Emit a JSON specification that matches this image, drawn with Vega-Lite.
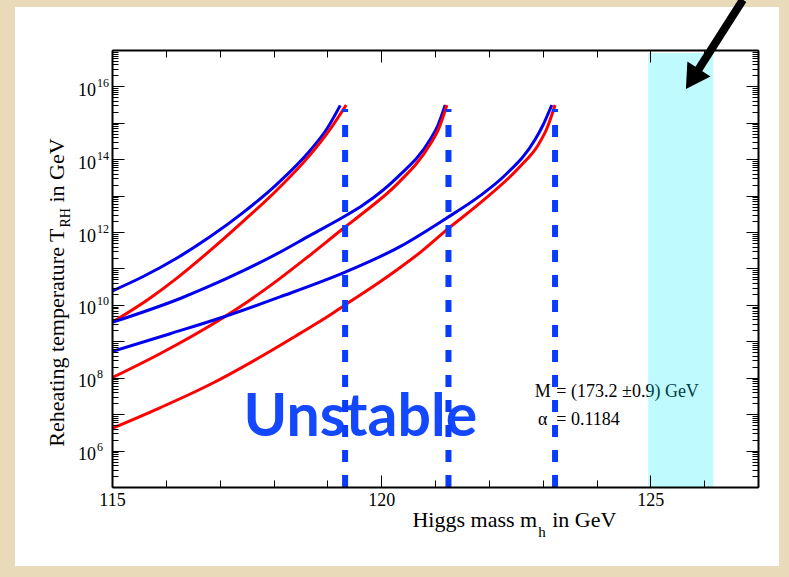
{
  "$schema": "https://vega.github.io/schema/vega-lite/v6.json",
  "width": 646,
  "height": 437,
  "autosize": "none",
  "padding": {"left": 112, "top": 50, "right": 31, "bottom": 90},
  "background": "#e9dbb9",
  "config": {"view": {"stroke": null}},
  "datasets": {
    "curves": [
      {"mh": 115.00, "T": 2.40e10, "curve": "A", "color": "blue"},
      {"mh": 115.58, "T": 6.03e10, "curve": "A", "color": "blue"},
      {"mh": 116.20, "T": 1.91e11, "curve": "A", "color": "blue"},
      {"mh": 116.82, "T": 7.41e11, "curve": "A", "color": "blue"},
      {"mh": 117.44, "T": 3.47e12, "curve": "A", "color": "blue"},
      {"mh": 118.06, "T": 2.04e13, "curve": "A", "color": "blue"},
      {"mh": 118.68, "T": 1.74e14, "curve": "A", "color": "blue"},
      {"mh": 118.99, "T": 6.76e14, "curve": "A", "color": "blue"},
      {"mh": 119.24, "T": 3.02e15, "curve": "A", "color": "blue"},

      {"mh": 115.00, "T": 3.31e9, "curve": "A", "color": "red"},
      {"mh": 115.71, "T": 1.55e10, "curve": "A", "color": "red"},
      {"mh": 116.20, "T": 5.37e10, "curve": "A", "color": "red"},
      {"mh": 116.82, "T": 3.09e11, "curve": "A", "color": "red"},
      {"mh": 117.44, "T": 2.00e12, "curve": "A", "color": "red"},
      {"mh": 118.06, "T": 1.41e13, "curve": "A", "color": "red"},
      {"mh": 118.68, "T": 1.32e14, "curve": "A", "color": "red"},
      {"mh": 119.05, "T": 6.61e14, "curve": "A", "color": "red"},
      {"mh": 119.35, "T": 3.09e15, "curve": "A", "color": "red"},

      {"mh": 115.00, "T": 3.31e9, "curve": "B", "color": "blue"},
      {"mh": 116.29, "T": 1.55e10, "curve": "B", "color": "blue"},
      {"mh": 116.82, "T": 3.31e10, "curve": "B", "color": "blue"},
      {"mh": 117.44, "T": 8.71e10, "curve": "B", "color": "blue"},
      {"mh": 118.06, "T": 2.51e11, "curve": "B", "color": "blue"},
      {"mh": 118.68, "T": 8.13e11, "curve": "B", "color": "blue"},
      {"mh": 119.33, "T": 2.75e12, "curve": "B", "color": "blue"},
      {"mh": 119.67, "T": 5.62e12, "curve": "B", "color": "blue"},
      {"mh": 120.29, "T": 3.09e13, "curve": "B", "color": "blue"},
      {"mh": 120.91, "T": 3.47e14, "curve": "B", "color": "blue"},
      {"mh": 121.05, "T": 8.32e14, "curve": "B", "color": "blue"},
      {"mh": 121.19, "T": 3.09e15, "curve": "B", "color": "blue"},

      {"mh": 115.00, "T": 1.00e8, "curve": "B", "color": "red"},
      {"mh": 115.89, "T": 4.57e8, "curve": "B", "color": "red"},
      {"mh": 117.01, "T": 3.98e9, "curve": "B", "color": "red"},
      {"mh": 117.56, "T": 1.35e10, "curve": "B", "color": "red"},
      {"mh": 118.06, "T": 4.57e10, "curve": "B", "color": "red"},
      {"mh": 118.68, "T": 2.34e11, "curve": "B", "color": "red"},
      {"mh": 119.33, "T": 1.38e12, "curve": "B", "color": "red"},
      {"mh": 119.67, "T": 3.39e12, "curve": "B", "color": "red"},
      {"mh": 120.29, "T": 2.04e13, "curve": "B", "color": "red"},
      {"mh": 120.91, "T": 2.57e14, "curve": "B", "color": "red"},
      {"mh": 121.07, "T": 6.92e14, "curve": "B", "color": "red"},
      {"mh": 121.22, "T": 3.09e15, "curve": "B", "color": "red"},

      {"mh": 115.00, "T": 5.25e8, "curve": "C", "color": "blue"},
      {"mh": 116.08, "T": 1.62e9, "curve": "C", "color": "blue"},
      {"mh": 117.01, "T": 4.37e9, "curve": "C", "color": "blue"},
      {"mh": 118.12, "T": 1.66e10, "curve": "C", "color": "blue"},
      {"mh": 119.33, "T": 7.94e10, "curve": "C", "color": "blue"},
      {"mh": 120.35, "T": 3.98e11, "curve": "C", "color": "blue"},
      {"mh": 121.19, "T": 2.29e12, "curve": "C", "color": "blue"},
      {"mh": 121.84, "T": 1.00e13, "curve": "C", "color": "blue"},
      {"mh": 122.30, "T": 3.63e13, "curve": "C", "color": "blue"},
      {"mh": 122.86, "T": 3.47e14, "curve": "C", "color": "blue"},
      {"mh": 123.00, "T": 8.32e14, "curve": "C", "color": "blue"},
      {"mh": 123.17, "T": 3.09e15, "curve": "C", "color": "blue"},

      {"mh": 115.00, "T": 4.07e6, "curve": "C", "color": "red"},
      {"mh": 115.87, "T": 1.45e7, "curve": "C", "color": "red"},
      {"mh": 116.80, "T": 6.31e7, "curve": "C", "color": "red"},
      {"mh": 117.73, "T": 3.55e8, "curve": "C", "color": "red"},
      {"mh": 118.47, "T": 1.58e9, "curve": "C", "color": "red"},
      {"mh": 119.05, "T": 5.25e9, "curve": "C", "color": "red"},
      {"mh": 119.33, "T": 1.00e10, "curve": "C", "color": "red"},
      {"mh": 119.61, "T": 1.86e10, "curve": "C", "color": "red"},
      {"mh": 120.29, "T": 9.12e10, "curve": "C", "color": "red"},
      {"mh": 120.75, "T": 2.95e11, "curve": "C", "color": "red"},
      {"mh": 121.25, "T": 1.26e12, "curve": "C", "color": "red"},
      {"mh": 121.84, "T": 6.31e12, "curve": "C", "color": "red"},
      {"mh": 122.58, "T": 6.31e13, "curve": "C", "color": "red"},
      {"mh": 122.92, "T": 2.51e14, "curve": "C", "color": "red"},
      {"mh": 123.08, "T": 7.08e14, "curve": "C", "color": "red"},
      {"mh": 123.23, "T": 3.09e15, "curve": "C", "color": "red"}
    ],
    "bounds": [{"mh": 119.33}, {"mh": 121.25}, {"mh": 123.23}],
    "decades": [
      {"T": 1e6, "e": "6"}, {"T": 1e8, "e": "8"}, {"T": 1e10, "e": "10"},
      {"T": 1e12, "e": "12"}, {"T": 1e14, "e": "14"}, {"T": 1e16, "e": "16"}
    ],
    "frame": [{"mh": 115, "T": 1e5}],
    "one": [{}]
  },
  "resolve": {"axis": {"x": "independent", "y": "independent"}},
  "layer": [
    {
      "data": {"name": "one"},
      "mark": {"type": "rect", "fill": "white", "clip": false},
      "encoding": {
        "x": {"datum": 113.198, "axis": null},
        "x2": {"datum": 127.391},
        "y": {"datum": 1.52e18, "axis": null},
        "y2": {"datum": 679}
      }
    },
    {
      "data": {"name": "curves"},
      "mark": {"type": "line", "strokeWidth": 3, "interpolate": "monotone", "clip": true},
      "encoding": {
        "x": {
          "field": "mh", "type": "quantitative",
          "scale": {"domain": [115, 127], "nice": false, "zero": false},
          "axis": {
            "orient": "bottom", "title": null, "grid": false, "zindex": 1,
            "values": [115, 116, 117, 118, 119, 120, 121, 122, 123, 124, 125, 126, 127],
            "labelExpr": "datum.value % 5 === 0 ? datum.label : ''",
            "labelFont": "Liberation Serif", "labelFontSize": 18, "labelColor": "black",
            "labelPadding": 16, "labelFlush": false, "labelOverlap": false,
            "tickColor": "black", "tickWidth": 1,
            "tickSize": {"condition": {"test": "datum.value % 5 === 0", "value": -12}, "value": -7},
            "domainColor": "black", "domainWidth": 2
          }
        },
        "y": {
          "field": "T", "type": "quantitative",
          "scale": {"type": "log", "domain": [1e5, 1e17], "nice": false},
          "axis": {
            "orient": "left", "title": null, "grid": false, "zindex": 1, "labels": false,
            "values": [1e5,2e5,3e5,4e5,5e5,6e5,7e5,8e5,9e5,1e6,2e6,3e6,4e6,5e6,6e6,7e6,8e6,9e6,1e7,2e7,3e7,4e7,5e7,6e7,7e7,8e7,9e7,1e8,2e8,3e8,4e8,5e8,6e8,7e8,8e8,9e8,1e9,2e9,3e9,4e9,5e9,6e9,7e9,8e9,9e9,1e10,2e10,3e10,4e10,5e10,6e10,7e10,8e10,9e10,1e11,2e11,3e11,4e11,5e11,6e11,7e11,8e11,9e11,1e12,2e12,3e12,4e12,5e12,6e12,7e12,8e12,9e12,1e13,2e13,3e13,4e13,5e13,6e13,7e13,8e13,9e13,1e14,2e14,3e14,4e14,5e14,6e14,7e14,8e14,9e14,1e15,2e15,3e15,4e15,5e15,6e15,7e15,8e15,9e15,1e16,2e16,3e16,4e16,5e16,6e16,7e16,8e16,9e16,1e17],
            "tickColor": "black", "tickWidth": 1,
            "tickSize": {"condition": {"test": "abs(log(datum.value)/LN10 - round(log(datum.value)/LN10)) < 0.000001", "value": -12}, "value": -6},
            "domainColor": "black", "domainWidth": 2
          }
        },
        "color": {
          "field": "color", "type": "nominal",
          "scale": {"domain": ["blue", "red"], "range": ["#0000ee", "#ff0000"]},
          "legend": null
        },
        "detail": {"field": "curve"}
      }
    },
    {
      "data": {"name": "one"},
      "mark": {"type": "text", "text": "Unstable", "font": "Lato", "fontWeight": "bold", "fontSize": 59, "color": "#1448ff", "align": "left", "baseline": "alphabetic", "dx": -3, "dy": -15},
      "encoding": {"x": {"datum": 117.5, "axis": null}, "y": {"datum": 1e6, "axis": null}}
    },
    {
      "data": {"name": "one"},
      "mark": {"type": "text", "text": "M", "font": "Liberation Serif", "fontSize": 18, "color": "black", "align": "left", "baseline": "alphabetic", "dx": -8, "dy": -17.5},
      "encoding": {"x": {"datum": 123, "axis": null}, "y": {"datum": 1e7, "axis": null}}
    },
    {
      "data": {"name": "one"},
      "mark": {"type": "text", "text": "= (173.2 ±0.9) GeV", "font": "Liberation Serif", "fontSize": 18, "color": "black", "align": "left", "baseline": "alphabetic", "dx": 13.7, "dy": -17.5},
      "encoding": {"x": {"datum": 123, "axis": null}, "y": {"datum": 1e7, "axis": null}}
    },
    {
      "data": {"name": "one"},
      "mark": {"type": "text", "text": "α", "font": "Liberation Serif", "fontSize": 18, "color": "black", "align": "left", "baseline": "alphabetic", "dx": -4.7, "dy": 11},
      "encoding": {"x": {"datum": 123, "axis": null}, "y": {"datum": 1e7, "axis": null}}
    },
    {
      "data": {"name": "one"},
      "mark": {"type": "text", "text": "= 0.1184", "font": "Liberation Serif", "fontSize": 18, "color": "black", "align": "left", "baseline": "alphabetic", "dx": 13.7, "dy": 11},
      "encoding": {"x": {"datum": 123, "axis": null}, "y": {"datum": 1e7, "axis": null}}
    },
    {
      "data": {"name": "bounds"},
      "mark": {"type": "rule", "color": "#0a3cff", "strokeWidth": 6, "strokeDash": [12, 13], "clip": true},
      "encoding": {
        "x": {"field": "mh", "type": "quantitative", "axis": null},
        "y": {"datum": 1e5, "axis": null},
        "y2": {"datum": 2.4e15}
      }
    },
    {
      "data": {"name": "one"},
      "mark": {"type": "rect", "fill": "#00eaff", "opacity": 0.25},
      "encoding": {
        "x": {"datum": 124.96, "axis": null},
        "x2": {"datum": 126.17},
        "y": {"datum": 1e5, "axis": null},
        "y2": {"datum": 8.3e16}
      }
    },
    {
      "data": {"name": "one"},
      "mark": {"type": "rule", "color": "black", "strokeWidth": 8, "clip": false},
      "encoding": {
        "x": {"datum": 126.72, "axis": null},
        "y": {"datum": 2.4e18, "axis": null},
        "x2": {"datum": 125.782},
        "y2": {"datum": 1.6e16}
      }
    },
    {
      "data": {"name": "one"},
      "mark": {"type": "point", "shape": "triangle-up", "filled": true, "color": "black", "opacity": 1, "size": 760, "angle": 213, "clip": false},
      "encoding": {
        "x": {"datum": 125.782, "axis": null},
        "y": {"datum": 1.6e16, "axis": null}
      }
    },
    {
      "data": {"name": "decades"},
      "mark": {"type": "text", "text": "10", "font": "Liberation Serif", "fontSize": 18, "color": "black", "align": "right", "baseline": "alphabetic", "dx": -16, "dy": 9.5},
      "encoding": {
        "x": {"datum": 115, "axis": null},
        "y": {"field": "T", "type": "quantitative", "axis": null}
      }
    },
    {
      "data": {"name": "decades"},
      "mark": {"type": "text", "font": "Liberation Serif", "fontSize": 12, "color": "black", "align": "left", "baseline": "alphabetic", "dx": -15, "dy": 0.5},
      "encoding": {
        "x": {"datum": 115, "axis": null},
        "y": {"field": "T", "type": "quantitative", "axis": null},
        "text": {"field": "e"}
      }
    },
    {
      "data": {"name": "one"},
      "mark": {"type": "text", "text": "Reheating temperature T", "font": "Liberation Serif", "fontSize": 22, "color": "black", "angle": 270, "align": "right", "baseline": "alphabetic", "dx": 40, "dy": -48},
      "encoding": {"x": {"datum": 115, "axis": null}, "y": {"datum": 1e11, "axis": null}}
    },
    {
      "data": {"name": "one"},
      "mark": {"type": "text", "text": "RH", "font": "Liberation Serif", "fontSize": 14, "color": "black", "angle": 270, "align": "left", "baseline": "alphabetic", "dx": 41, "dy": -42},
      "encoding": {"x": {"datum": 115, "axis": null}, "y": {"datum": 1e11, "axis": null}}
    },
    {
      "data": {"name": "one"},
      "mark": {"type": "text", "text": "in GeV", "font": "Liberation Serif", "fontSize": 22, "color": "black", "angle": 270, "align": "left", "baseline": "alphabetic", "dx": 66, "dy": -48},
      "encoding": {"x": {"datum": 115, "axis": null}, "y": {"datum": 1e11, "axis": null}}
    },
    {
      "data": {"name": "one"},
      "mark": {"type": "text", "text": "Higgs mass m", "font": "Liberation Serif", "fontSize": 22, "color": "black", "align": "right", "baseline": "alphabetic", "dx": 156, "dy": 40},
      "encoding": {"x": {"datum": 120, "axis": null}, "y": {"datum": 1e5, "axis": null}}
    },
    {
      "data": {"name": "one"},
      "mark": {"type": "text", "text": "h", "font": "Liberation Serif", "fontSize": 15, "color": "black", "align": "left", "baseline": "alphabetic", "dx": 157, "dy": 50},
      "encoding": {"x": {"datum": 120, "axis": null}, "y": {"datum": 1e5, "axis": null}}
    },
    {
      "data": {"name": "one"},
      "mark": {"type": "text", "text": "in GeV", "font": "Liberation Serif", "fontSize": 22, "color": "black", "align": "left", "baseline": "alphabetic", "dx": 171, "dy": 40},
      "encoding": {"x": {"datum": 120, "axis": null}, "y": {"datum": 1e5, "axis": null}}
    },
    {
      "data": {"name": "frame"},
      "mark": {"type": "point", "opacity": 0},
      "encoding": {
        "x": {
          "field": "mh", "type": "quantitative",
          "axis": {
            "orient": "top", "title": null, "grid": false, "zindex": 1, "labels": false,
            "values": [115, 116, 117, 118, 119, 120, 121, 122, 123, 124, 125, 126, 127],
            "tickColor": "black", "tickWidth": 1,
            "tickSize": {"condition": {"test": "datum.value % 5 === 0", "value": -12}, "value": -7},
            "domainColor": "black", "domainWidth": 2
          }
        },
        "y": {
          "field": "T", "type": "quantitative",
          "axis": {
            "orient": "right", "title": null, "grid": false, "zindex": 1, "labels": false,
            "values": [1e5,2e5,3e5,4e5,5e5,6e5,7e5,8e5,9e5,1e6,2e6,3e6,4e6,5e6,6e6,7e6,8e6,9e6,1e7,2e7,3e7,4e7,5e7,6e7,7e7,8e7,9e7,1e8,2e8,3e8,4e8,5e8,6e8,7e8,8e8,9e8,1e9,2e9,3e9,4e9,5e9,6e9,7e9,8e9,9e9,1e10,2e10,3e10,4e10,5e10,6e10,7e10,8e10,9e10,1e11,2e11,3e11,4e11,5e11,6e11,7e11,8e11,9e11,1e12,2e12,3e12,4e12,5e12,6e12,7e12,8e12,9e12,1e13,2e13,3e13,4e13,5e13,6e13,7e13,8e13,9e13,1e14,2e14,3e14,4e14,5e14,6e14,7e14,8e14,9e14,1e15,2e15,3e15,4e15,5e15,6e15,7e15,8e15,9e15,1e16,2e16,3e16,4e16,5e16,6e16,7e16,8e16,9e16,1e17],
            "tickColor": "black", "tickWidth": 1,
            "tickSize": {"condition": {"test": "abs(log(datum.value)/LN10 - round(log(datum.value)/LN10)) < 0.000001", "value": -12}, "value": -6},
            "domainColor": "black", "domainWidth": 2
          }
        }
      }
    }
  ]
}
